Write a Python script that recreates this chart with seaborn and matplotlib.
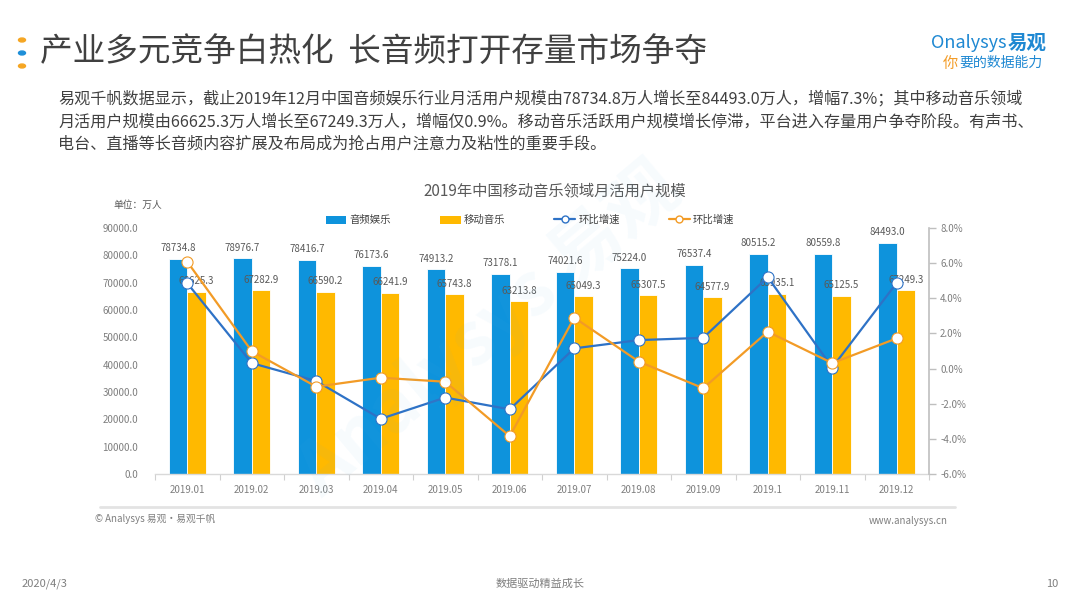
import numpy as np
import pandas as pd
import seaborn as sns
import matplotlib.pyplot as plt
from matplotlib.patches import Patch, Circle
from matplotlib.lines import Line2D
from matplotlib.ticker import FuncFormatter, FixedLocator

months = ["2019.01", "2019.02", "2019.03", "2019.04", "2019.05", "2019.06",
          "2019.07", "2019.08", "2019.09", "2019.1", "2019.11", "2019.12"]
audio_users = [78734.8, 78976.7, 78416.7, 76173.6, 74913.2, 73178.1,
               74021.6, 75224.0, 76537.4, 80515.2, 80559.8, 84493.0]
music_users = [66625.3, 67282.9, 66590.2, 66241.9, 65743.8, 63213.8,
               65049.3, 65307.5, 64577.9, 65935.1, 65125.5, 67249.3]
audio_growth = [4.86, 0.31, -0.71, -2.86, -1.65, -2.32,
                1.15, 1.62, 1.75, 5.20, 0.06, 4.88]
music_growth = [6.08, 0.99, -1.03, -0.52, -0.75, -3.85,
                2.90, 0.40, -1.12, 2.10, 0.31, 1.72]
bar_names = ["音频娱乐", "移动音乐"]
line_names = ["环比增速", "环比增速 "]

BLUE_BAR = "#0E93DC"
ORANGE_BAR = "#FFB900"
BLUE_LINE = "#2E72C6"
ORANGE_LINE = "#F29B26"
GRAY = "#7F7F7F"
DARK = "#404040"

sns.set_theme(style="white")
plt.rcParams["font.family"] = ["Noto Sans CJK SC", "DejaVu Sans"]
plt.rcParams["axes.unicode_minus"] = False

bars = pd.DataFrame({
    "month": months * 2,
    "users": audio_users + music_users,
    "series": [bar_names[0]] * 12 + [bar_names[1]] * 12,
})
lines = pd.DataFrame({
    "pos": list(range(12)) * 2,
    "growth": audio_growth + music_growth,
    "series": [line_names[0]] * 12 + [line_names[1]] * 12,
})

W, H = 1080, 608
fig = plt.figure(figsize=(W / 100, H / 100), dpi=100)


def fx(px):
    return px / W


def fy(py):
    return 1 - py / H


ax = fig.add_axes([fx(155), fy(474), fx(929 - 155), (474 - 228) / H])
sns.barplot(data=bars, x="month", y="users", hue="series",
            palette=[BLUE_BAR, ORANGE_BAR], width=0.58, gap=0,
            saturation=1, edgecolor="white", linewidth=0.6,
            ax=ax, legend=False)
for cont in ax.containers:
    ax.bar_label(cont, fmt="%.1f", padding=4, fontsize=7, color="#595959")
ax.set_ylim(0, 90000)
ax.set_xlim(-0.5, 11.5)
ax.set_yticks(np.arange(0, 90001, 10000))
ax.yaxis.set_major_formatter(FuncFormatter(lambda v, p: f"{v:.1f}"))
ax.tick_params(axis="y", labelsize=7, labelcolor=GRAY, length=0, pad=12)
ax.tick_params(axis="x", labelsize=7, labelcolor=GRAY, length=0, pad=8)
ax.xaxis.set_minor_locator(FixedLocator(np.arange(-0.5, 12, 1)))
ax.tick_params(axis="x", which="minor", bottom=True, length=4,
               color="#D0D0D0", width=0.8)
ax.set_xlabel("")
ax.set_ylabel("")
for s in ["left", "top", "right"]:
    ax.spines[s].set_visible(False)
ax.spines["bottom"].set_color("#D9D9D9")
ax.spines["bottom"].set_linewidth(1)

ax2 = ax.twinx()
sns.lineplot(data=lines, x="pos", y="growth", hue="series",
             palette=[BLUE_LINE, ORANGE_LINE], marker="o", markersize=8,
             markerfacecolor="white", markeredgewidth=0.8, linewidth=1.6,
             ax=ax2, legend=False)
for ln, col in zip(ax2.lines, [BLUE_LINE, ORANGE_LINE]):
    ln.set_markeredgecolor(col)
ax2.set_ylim(-6, 8)
ax2.set_yticks(np.arange(-6, 8.1, 2))
ax2.yaxis.set_major_formatter(FuncFormatter(lambda v, p: f"{v:.1f}%"))
ax2.tick_params(axis="y", labelsize=7, labelcolor=GRAY, length=5,
                color="#BFBFBF", width=1, pad=3, direction="out")
ax2.set_ylabel("")
ax2.set_xlabel("")
for s in ["left", "top", "bottom"]:
    ax2.spines[s].set_visible(False)
ax2.spines["right"].set_color("#BFBFBF")
ax2.spines["right"].set_linewidth(1.2)
ax.set_xlim(-0.5, 11.5)

handles = [
    Patch(facecolor=BLUE_BAR, edgecolor="none"),
    Patch(facecolor=ORANGE_BAR, edgecolor="none"),
    Line2D([], [], color=BLUE_LINE, marker="o", markersize=5,
           markerfacecolor="white", markeredgecolor=BLUE_LINE, lw=1.6),
    Line2D([], [], color=ORANGE_LINE, marker="o", markersize=5,
           markerfacecolor="white", markeredgecolor=ORANGE_LINE, lw=1.6),
]
fig.legend(handles, ["音频娱乐", "移动音乐", "环比增速", "环比增速"],
           loc="center", bbox_to_anchor=(fx(530), fy(220)), ncol=4,
           frameon=False, fontsize=7.5, handlelength=2.0, handleheight=0.8,
           columnspacing=4.7, handletextpad=0.3, labelcolor="#404040")

fig.text(fx(555), fy(191), "2019年中国移动音乐领域月活用户规模",
         ha="center", va="center", fontsize=11, color="#595959")
fig.text(fx(113), fy(205), "单位：万人", ha="left", va="center",
         fontsize=7, color="#595959")

# watermark
fig.text(fx(490), fy(330), "Analysys 易观", ha="center", va="center",
         fontsize=52, color="#5BB6E8", alpha=0.05, rotation=40,
         fontweight="bold")

# header
for yy, c in [(40, "#F5A623"), (53, "#1E8FD8"), (66, "#F5A623")]:
    fig.patches.append(Circle((fx(22), fy(yy)), 3.5 / W, color=c,
                              transform=fig.transFigure))
fig.text(fx(40), fy(52), "产业多元竞争白热化  长音频打开存量市场争夺",
         ha="left", va="center", fontsize=23.5, color=DARK)
fig.text(fx(1006), fy(43), "Onalysys", ha="right", va="center",
         fontsize=13, color="#1E88D2", style="italic")
fig.text(fx(1008), fy(43), "易观", ha="left", va="center",
         fontsize=14, color="#1E88D2", fontweight="bold")
fig.text(fx(943), fy(63), "你", ha="left", va="center",
         fontsize=11, color="#F39C27", style="italic")
fig.text(fx(959), fy(63), "要的数据能力", ha="left", va="center",
         fontsize=10, color="#1E88D2", style="italic")

para = ["易观千帆数据显示，截止2019年12月中国音频娱乐行业月活用户规模由78734.8万人增长至84493.0万人，增幅7.3%；其中移动音乐领域",
        "月活用户规模由66625.3万人增长至67249.3万人，增幅仅0.9%。移动音乐活跃用户规模增长停滞，平台进入存量用户争夺阶段。有声书、",
        "电台、直播等长音频内容扩展及布局成为抢占用户注意力及粘性的重要手段。"]
for i, t in enumerate(para):
    fig.text(fx(58), fy(99 + i * 22.5), t, ha="left", va="center",
             fontsize=11.6, color=DARK)

# source line
fig.add_artist(Line2D([fx(100), fx(955)], [fy(507), fy(507)],
                      color="#E3E3E3", lw=2, transform=fig.transFigure))
fig.text(fx(95), fy(519), "© Analysys 易观·易观千帆", ha="left",
         va="center", fontsize=7, color=GRAY)
fig.text(fx(948), fy(521), "www.analysys.cn", ha="right", va="center",
         fontsize=7, color=GRAY)

# footer
fig.text(fx(22), fy(584), "2020/4/3", ha="left", va="center",
         fontsize=8, color=GRAY)
fig.text(fx(540), fy(584), "数据驱动精益成长", ha="center", va="center",
         fontsize=8, color=GRAY)
fig.text(fx(1058), fy(584), "10", ha="right", va="center",
         fontsize=8, color=GRAY)

fig.savefig("out.png", dpi=100)
plt.close(fig)
